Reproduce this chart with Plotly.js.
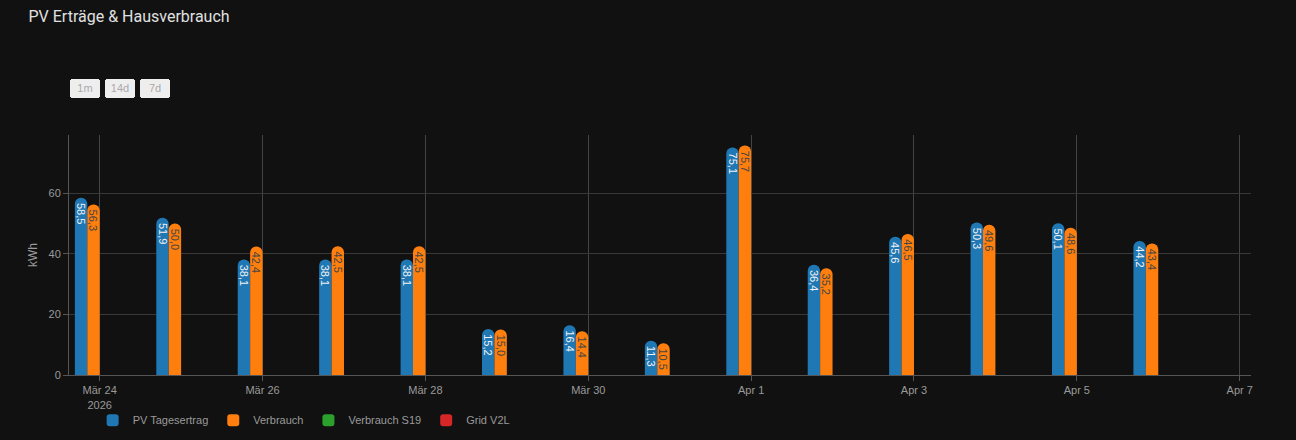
<!DOCTYPE html>
<html>
<head>
<meta charset="utf-8">
<script src="https://cdn.plot.ly/plotly-3.0.1.min.js"></script>
<style>
  html, body { margin: 0; padding: 0; background: #111111; }
  #chart { width: 1296px; height: 440px; }
</style>
</head>
<body>
<div id="chart"></div>
<script>
const dates = ['2026-03-24','2026-03-25','2026-03-26','2026-03-27','2026-03-28','2026-03-29','2026-03-30',
               '2026-03-31','2026-04-01','2026-04-02','2026-04-03','2026-04-04','2026-04-05','2026-04-06'];
const pvTagesertrag = [58.5, 51.9, 38.1, 38.1, 38.1, 15.2, 16.4, 11.3, 75.1, 36.4, 45.6, 50.3, 50.1, 44.2];
const verbrauch     = [56.3, 50.0, 42.4, 42.5, 42.5, 15.0, 14.4, 10.5, 75.7, 35.2, 46.5, 49.6, 48.6, 43.4];
const verbrauchS19  = [null, null, null, null, null, null, null, null, null, null, null, null, null, null];
const gridV2L       = [null, null, null, null, null, null, null, null, null, null, null, null, null, null];
const seriesNames = ['PV Tagesertrag', 'Verbrauch', 'Verbrauch S19', 'Grid V2L'];
const tickVals = ['2026-03-24','2026-03-26','2026-03-28','2026-03-30','2026-04-01','2026-04-03','2026-04-05','2026-04-07'];
const tickText = ['Mär 24<br>2026','Mär 26','Mär 28','Mär 30','Apr 1','Apr 3','Apr 5','Apr 7'];
const buttonLabels = ['1m','14d','7d'];

const colors = ['#1f77b4','#ff7f0e','#2ca02c','#d62728'];
const textColors = ['#f2f2f2','#444444','#f2f2f2','#f2f2f2'];
const seriesValues = [pvTagesertrag, verbrauch, verbrauchS19, gridV2L];

// visible rounded bars (no text)
const barTraces = seriesValues.map((vals, i) => ({
  type: 'bar',
  name: seriesNames[i],
  x: dates,
  y: vals,
  xaxis: 'x', yaxis: 'y',
  marker: { color: colors[i], cornerradius: 6 },
  hovertemplate: '%{y:.1f} kWh<extra>' + seriesNames[i] + '</extra>'
}));

// transparent square-cornered overlay bars carrying the value labels
const textTraces = seriesValues.map((vals, i) => ({
  type: 'bar',
  name: seriesNames[i],
  x: dates,
  y: vals,
  xaxis: 'x2', yaxis: 'y2',
  showlegend: false,
  hoverinfo: 'skip',
  marker: { color: 'rgba(0,0,0,0)', cornerradius: 0 },
  texttemplate: '\u2009%{y:.1f}',
  textposition: 'inside',
  insidetextanchor: 'end',
  textangle: 90,
  constraintext: 'none',
  insidetextfont: { size: 11, color: textColors[i], family: 'Liberation Sans, Arial, sans-serif' }
}));

const xRange = ['2026-03-23 14:57', '2026-04-07 03:20'];
const yRange = [0, 79.2];

const layout = {
  width: 1296, height: 440,
  paper_bgcolor: '#111111',
  plot_bgcolor: '#111111',
  separators: ',.',
  font: { family: 'Liberation Sans, Arial, sans-serif', size: 11, color: '#9a9a9a' },
  title: {
    text: 'PV Erträge & Hausverbrauch',
    font: { family: 'Roboto, sans-serif', size: 16, color: '#e0e0e0' },
    x: 0.022, xanchor: 'left', xref: 'container',
    y: 0.963, yanchor: 'middle', yref: 'container'
  },
  margin: { l: 69, r: 45, t: 135, b: 65, autoexpand: false },
  barmode: 'group',
  bargap: 0.39,
  bargroupgap: 0,
  showlegend: true,
  legend: {
    orientation: 'h',
    x: 0.02, xanchor: 'left',
    yref: 'container',
    y: 0.045, yanchor: 'middle',
    font: { size: 11, color: '#9a9a9a' },
    bgcolor: 'rgba(0,0,0,0)'
  },
  xaxis: {
    type: 'date',
    range: xRange,
    tickvals: tickVals,
    ticktext: tickText,
    showgrid: true,
    gridcolor: '#444444',
    showline: true,
    linecolor: '#555555',
    ticks: 'outside',
    ticklen: 5,
    tickcolor: '#555555',
    tickfont: { size: 11, color: '#9a9a9a' },
    zeroline: false,
    rangeselector: {
      buttons: [
        { count: 1, step: 'month', stepmode: 'backward', label: buttonLabels[0] },
        { count: 14, step: 'day', stepmode: 'backward', label: buttonLabels[1] },
        { count: 7, step: 'day', stepmode: 'backward', label: buttonLabels[2] }
      ],
      x: 0.001, xanchor: 'left',
      y: 1.155, yanchor: 'bottom',
      bgcolor: '#eeeeee',
      activecolor: '#eeeeee',
      font: { size: 11, color: '#aaaaaa' }
    }
  },
  xaxis2: {
    type: 'date',
    overlaying: 'x',
    matches: 'x',
    range: xRange,
    visible: false
  },
  yaxis: {
    title: { text: 'kWh', font: { size: 12, color: '#9a9a9a' }, standoff: 8 },
    showgrid: true,
    gridcolor: '#383838',
    showline: true,
    linecolor: '#555555',
    ticks: 'outside',
    ticklen: 5,
    tickcolor: '#555555',
    zeroline: false,
    tickvals: [0, 20, 40, 60],
    tickfont: { size: 11, color: '#9a9a9a' },
    range: yRange
  },
  yaxis2: {
    overlaying: 'y',
    matches: 'y',
    range: yRange,
    visible: false
  }
};

Plotly.newPlot('chart', barTraces.concat(textTraces), layout, { displayModeBar: false, responsive: false });
</script>
</body>
</html>
